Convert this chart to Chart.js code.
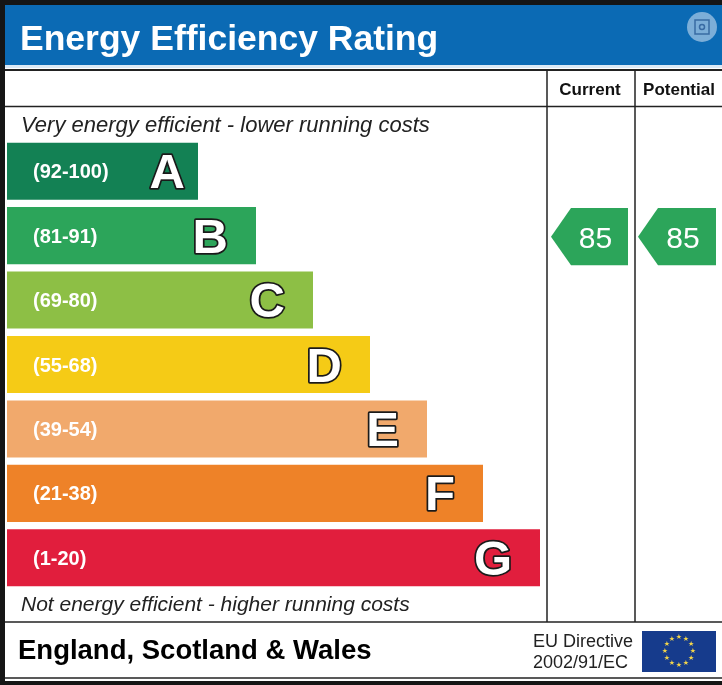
<!DOCTYPE html>
<html>
<head>
<meta charset="utf-8">
<script src="https://cdn.jsdelivr.net/npm/chart.js@4/dist/chart.umd.min.js"></script>
<style>
  html, body { margin: 0; padding: 0; background: #151515; }
  canvas { display: block; }
</style>
</head>
<body>
<canvas id="epcChart" width="722" height="685"></canvas>
<script>
/**
 *  Band data for the rating chart.
 */
var bandLetters = ['A', 'B', 'C', 'D', 'E', 'F', 'G'];
var bandRanges = ['(92-100)', '(81-91)', '(69-80)', '(55-68)', '(39-54)', '(21-38)', '(1-20)'];
var bandMins = [92, 81, 69, 55, 39, 21, 1];
var bandLengths = [191, 249, 306, 363, 420, 476, 533];
var bandColors = ['#138154', '#2ca55a', '#8dbf45', '#f5cb16', '#f1a96c', '#ee8228', '#e11e3d'];

var currentRating = 85;
var potentialRating = 85;

/**
 *  Returns the index of the band that a score falls in.
 */
function bandIndex(score) {
    for (var i = 0; i < bandMins.length; i++) {
        if (score >= bandMins[i]) return i;
    }
    return bandMins.length - 1;
}

/**
 *  Draws a left pointing arrow with the score inside.
 */
function drawArrow(ctx, left, right, yc, h, score, color) {
    var tip = 20;
    ctx.beginPath();
    ctx.moveTo(left, yc);
    ctx.lineTo(left + tip, yc - h / 2);
    ctx.lineTo(right, yc - h / 2);
    ctx.lineTo(right, yc + h / 2);
    ctx.lineTo(left + tip, yc + h / 2);
    ctx.closePath();
    ctx.fillStyle = color;
    ctx.fill();
    ctx.fillStyle = '#ffffff';
    ctx.font = '30px "Liberation Sans", Arial, sans-serif';
    ctx.textAlign = 'center';
    ctx.textBaseline = 'alphabetic';
    ctx.fillText(String(score), (left + tip + right) / 2 - 4, yc + 11);
}

function line(ctx, x1, y1, x2, y2, w) {
    ctx.beginPath();
    ctx.lineWidth = w;
    ctx.strokeStyle = '#222222';
    ctx.moveTo(x1, y1);
    ctx.lineTo(x2, y2);
    ctx.stroke();
}

/**
 *  Frame: header, table lines and footer.
 */
var framePlugin = {
    id: 'epcFrame',
    beforeDraw: function(chart) {
        var ctx = chart.ctx;
        ctx.save();
        ctx.fillStyle = '#151515';
        ctx.fillRect(0, 0, 722, 685);
        ctx.fillStyle = '#ffffff';
        ctx.fillRect(5, 5, 717, 676);

        // blue title bar
        ctx.fillStyle = '#0b6ab4';
        ctx.fillRect(5, 5, 717, 60);
        ctx.fillStyle = '#dbe9f6';
        ctx.fillRect(5, 65, 717, 3);
        ctx.fillStyle = '#ffffff';
        ctx.font = 'bold 35.5px "Liberation Sans", Arial, sans-serif';
        ctx.textAlign = 'left';
        ctx.textBaseline = 'alphabetic';
        ctx.fillText('Energy Efficiency Rating', 20, 50);

        // screenshot icon
        ctx.beginPath();
        ctx.arc(702, 27, 15, 0, Math.PI * 2);
        ctx.fillStyle = 'rgba(200,220,240,0.6)';
        ctx.fill();
        ctx.strokeStyle = 'rgba(40,90,150,0.8)';
        ctx.lineWidth = 1.5;
        ctx.strokeRect(695, 20, 14, 14);
        ctx.beginPath();
        ctx.arc(702, 27, 2.5, 0, Math.PI * 2);
        ctx.stroke();

        // table lines
        line(ctx, 5, 70, 722, 70, 2);
        line(ctx, 5, 106.5, 722, 106.5, 1.5);
        line(ctx, 547, 70, 547, 622, 1.5);
        line(ctx, 635, 70, 635, 622, 1.5);
        line(ctx, 5, 622, 722, 622, 1.5);
        line(ctx, 5, 678, 722, 678, 1.5);
        ctx.fillStyle = '#151515';
        ctx.fillRect(0, 681, 722, 4);

        ctx.fillStyle = '#111111';
        ctx.font = 'bold 17px "Liberation Sans", Arial, sans-serif';
        ctx.textAlign = 'center';
        ctx.fillText('Current', 590, 95);
        ctx.fillText('Potential', 679, 95);

        ctx.textAlign = 'left';
        ctx.fillStyle = '#222222';
        ctx.font = 'italic 22px "Liberation Sans", Arial, sans-serif';
        ctx.fillText('Very energy efficient - lower running costs', 21, 132);
        ctx.font = 'italic 21px "Liberation Sans", Arial, sans-serif';
        ctx.fillText('Not energy efficient - higher running costs', 21, 611);

        // footer
        ctx.fillStyle = '#000000';
        ctx.font = 'bold 27.5px "Liberation Sans", Arial, sans-serif';
        ctx.fillText('England, Scotland & Wales', 18, 659);
        ctx.fillStyle = '#222222';
        ctx.font = '18px "Liberation Sans", Arial, sans-serif';
        ctx.fillText('EU Directive', 533, 647);
        ctx.fillText('2002/91/EC', 533, 668);

        // EU flag
        ctx.fillStyle = '#163b8c';
        ctx.fillRect(642, 631, 74, 41);
        ctx.fillStyle = '#f3d54a';
        ctx.font = '7px "DejaVu Sans", sans-serif';
        ctx.textAlign = 'center';
        ctx.textBaseline = 'middle';
        for (var s = 0; s < 12; s++) {
            var a = s * Math.PI / 6;
            ctx.fillText('\u2605', 679 + Math.sin(a) * 14, 651 - Math.cos(a) * 14);
        }
        ctx.restore();
    },
    afterDatasetsDraw: function(chart) {
        var ctx = chart.ctx;
        var meta = chart.getDatasetMeta(0);
        ctx.save();
        meta.data.forEach(function(bar, i) {
            ctx.fillStyle = '#ffffff';
            ctx.font = 'bold 20px "Liberation Sans", Arial, sans-serif';
            ctx.textAlign = 'left';
            ctx.textBaseline = 'alphabetic';
            ctx.fillText(bandRanges[i], 33, bar.y + 7);

            var gap = i === 0 ? 13 : 28;
            ctx.font = 'bold 49px "Liberation Sans", Arial, sans-serif';
            ctx.textAlign = 'right';
            ctx.lineWidth = 3.5;
            ctx.lineJoin = 'round';
            ctx.strokeStyle = '#1a1a1a';
            ctx.strokeText(bandLetters[i], bar.x - gap, bar.y + 17);
            ctx.fillStyle = '#ffffff';
            ctx.fillText(bandLetters[i], bar.x - gap, bar.y + 17);
        });

        var cur = meta.data[bandIndex(currentRating)];
        drawArrow(ctx, 551, 628, cur.y + 1, cur.height, currentRating, bandColors[bandIndex(currentRating)]);
        var pot = meta.data[bandIndex(potentialRating)];
        drawArrow(ctx, 638, 716, pot.y + 1, pot.height, potentialRating, bandColors[bandIndex(potentialRating)]);
        ctx.restore();
    }
};

var epcChart = new Chart(document.getElementById('epcChart').getContext('2d'), {
    type: 'bar',
    data: {
        labels: bandLetters,
        datasets: [{
            label: 'Band',
            data: bandLengths,
            backgroundColor: bandColors,
            borderWidth: 0,
            barPercentage: 0.886,
            categoryPercentage: 1
        }]
    },
    options: {
        indexAxis: 'y',
        responsive: false,
        animation: false,
        layout: { padding: { left: 7, right: 0, top: 139, bottom: 95 } },
        scales: {
            x: { display: false, min: 0, max: 715 },
            y: { display: false }
        },
        plugins: {
            legend: { display: false },
            tooltip: { enabled: false }
        }
    },
    plugins: [framePlugin]
});
</script>
</body>
</html>
